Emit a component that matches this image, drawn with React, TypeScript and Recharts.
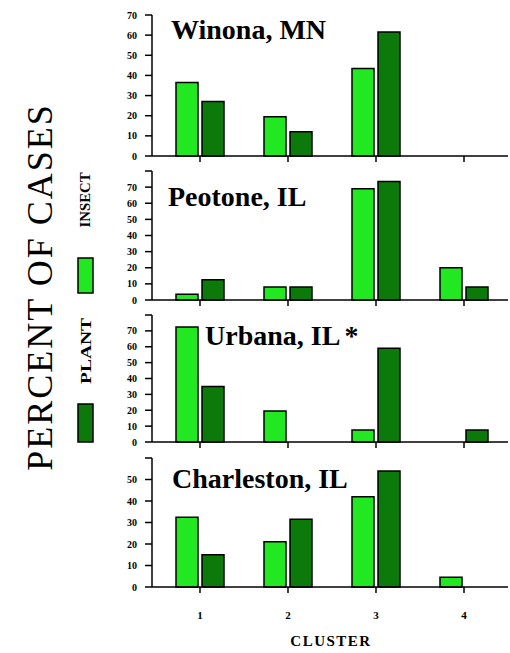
import React from "react";
import { BarChart, Bar, XAxis, YAxis } from "recharts";

const clusters = ["1", "2", "3", "4"];

const winonaInsect = [36.5, 19.5, 43.5, 0];
const winonaPlant = [27, 12, 61.5, 0];
const peotoneInsect = [3.5, 8, 69, 20];
const peotonePlant = [12.5, 8, 73.5, 8];
const urbanaInsect = [72.5, 19.5, 7.5, 0];
const urbanaPlant = [35, 0, 59, 7.5];
const charlestonInsect = [32.5, 21, 42, 4.5];
const charlestonPlant = [15, 31.5, 54, 0];

const ticks70 = [0, 10, 20, 30, 40, 50, 60, 70];
const ticks80 = [0, 10, 20, 30, 40, 50, 60, 70, 80];
const ticks60 = [0, 10, 20, 30, 40, 50, 60];

const INSECT_COLOR = "#22e822";
const PLANT_COLOR = "#0b7a0b";
const SERIF = "'Liberation Serif', 'Times New Roman', serif";

const toRows = (insect: number[], plant: number[]) =>
  clusters.map((c, i) => ({ cluster: c, insect: insect[i], plant: plant[i] }));

type PanelProps = {
  top: number;
  marginTop: number;
  plotHeight: number;
  max: number;
  ticks: number[];
  labelMax: number;
  insect: number[];
  plant: number[];
  showX?: boolean;
};

function Panel({ top, marginTop, plotHeight, max, ticks, labelMax, insect, plant, showX }: PanelProps) {
  const xHeight = showX ? 40 : 8;
  return (
    <div style={{ position: "absolute", left: 0, top }}>
      <BarChart
        width={510}
        height={marginTop + plotHeight + xHeight}
        data={toRows(insect, plant)}
        margin={{ top: marginTop, right: 2, left: 0, bottom: 0 }}
        barSize={22}
        barGap={4}
      >
        <XAxis
          dataKey="cluster"
          height={xHeight}
          padding={{ left: 4, right: 0 }}
          stroke="#000"
          strokeWidth={1.5}
          tickSize={6}
          tickMargin={18}
          interval={0}
          tickFormatter={(v) => (showX ? v : "")}
          tick={{ fontSize: 11, fill: "#000", fontFamily: SERIF, fontWeight: "bold" }}
        />
        <YAxis
          width={152}
          domain={[0, max]}
          ticks={ticks}
          interval={0}
          stroke="#000"
          strokeWidth={1.5}
          tickSize={7}
          tickMargin={8}
          tickFormatter={(v) => (v > labelMax ? "" : String(v))}
          tick={{ fontSize: 10, fill: "#000", fontFamily: SERIF, fontWeight: "bold" }}
        />
        <Bar dataKey="insect" fill={INSECT_COLOR} stroke="#000" strokeWidth={1.5} isAnimationActive={false} />
        <Bar dataKey="plant" fill={PLANT_COLOR} stroke="#000" strokeWidth={1.5} isAnimationActive={false} />
      </BarChart>
    </div>
  );
}

export default function App() {
  const titleStyle = { fontFamily: SERIF, fontWeight: "bold" as const, fontSize: 28, fill: "#000" };
  return (
    <div style={{ position: "absolute", left: 0, top: 0, width: 510, height: 653, background: "#fff", overflow: "hidden" }}>
      <Panel top={0} marginTop={15} plotHeight={141} max={70} ticks={ticks70} labelMax={70} insect={winonaInsect} plant={winonaPlant} />
      <Panel top={160} marginTop={11} plotHeight={129} max={80} ticks={ticks80} labelMax={70} insect={peotoneInsect} plant={peotonePlant} />
      <Panel top={305} marginTop={10} plotHeight={127} max={80} ticks={ticks80} labelMax={70} insect={urbanaInsect} plant={urbanaPlant} />
      <Panel top={450} marginTop={8} plotHeight={129} max={60} ticks={ticks60} labelMax={50} insect={charlestonInsect} plant={charlestonPlant} showX />

      <svg width={510} height={653} style={{ position: "absolute", left: 0, top: 0, pointerEvents: "none" }}>
        <text x={171} y={39} style={titleStyle}>Winona, MN</text>
        <text x={168} y={206} style={titleStyle}>Peotone, IL</text>
        <text x={205} y={345} style={titleStyle}>
          Urbana, IL<tspan dx={4}>*</tspan>
        </text>
        <text x={172} y={488} style={titleStyle}>Charleston, IL</text>

        <text
          x={52}
          y={287}
          transform="rotate(-90, 52, 287)"
          textAnchor="middle"
          style={{ fontFamily: SERIF, fontSize: 36, letterSpacing: 2, fill: "#000" }}
        >
          PERCENT OF CASES
        </text>

        <rect x={78} y={258} width={15} height={35} fill={INSECT_COLOR} stroke="#000" strokeWidth={1.5} />
        <text
          x={90}
          y={200}
          transform="rotate(-90, 90, 200)"
          textAnchor="middle"
          textLength={55}
          lengthAdjust="spacingAndGlyphs"
          style={{ fontFamily: SERIF, fontSize: 15, fontWeight: "bold", fill: "#000" }}
        >
          INSECT
        </text>
        <rect x={78} y={404} width={15} height={38} fill={PLANT_COLOR} stroke="#000" strokeWidth={1.5} />
        <text
          x={91}
          y={351}
          transform="rotate(-90, 91, 351)"
          textAnchor="middle"
          textLength={66}
          lengthAdjust="spacingAndGlyphs"
          style={{ fontFamily: SERIF, fontSize: 15, fontWeight: "bold", fill: "#000" }}
        >
          PLANT
        </text>

        <text
          x={331}
          y={646}
          textAnchor="middle"
          style={{ fontFamily: SERIF, fontSize: 15, fontWeight: "bold", letterSpacing: 1.5, fill: "#000" }}
        >
          CLUSTER
        </text>
      </svg>
    </div>
  );
}
